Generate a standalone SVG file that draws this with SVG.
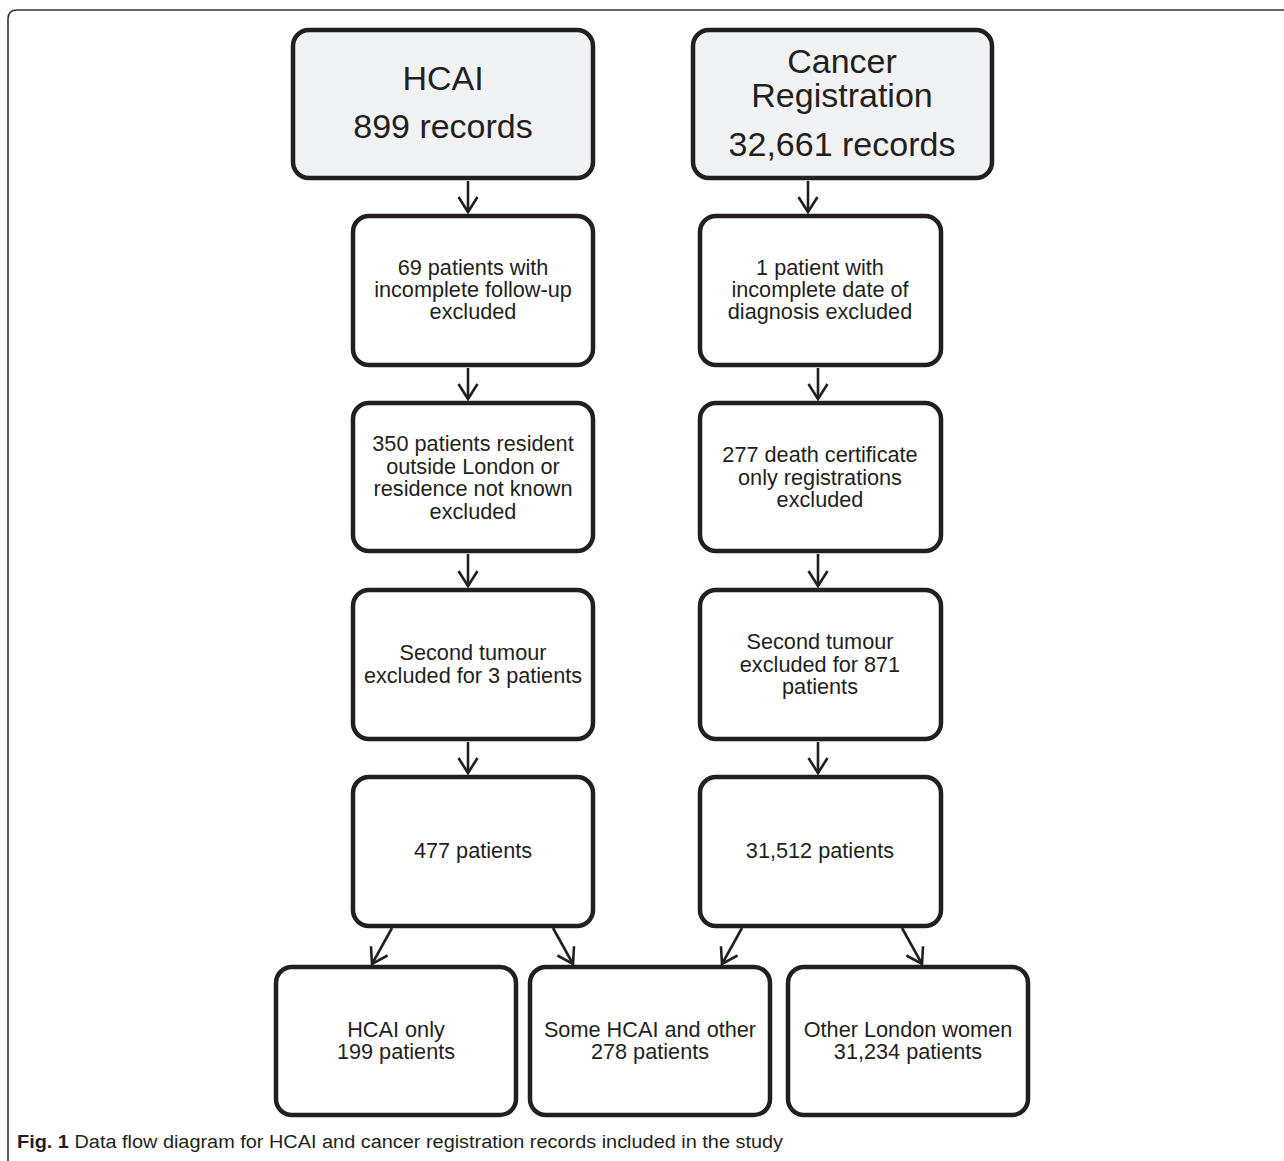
<svg xmlns="http://www.w3.org/2000/svg" width="1284" height="1161" viewBox="0 0 1284 1161">
<defs>
<style>
.box{fill:#ffffff;stroke:#231f20;stroke-width:4.5}
.head{fill:#f1f2f3;stroke:#231f20;stroke-width:4.5}
.t{font-family:"Liberation Sans",Arial,sans-serif;font-size:21.7px;fill:#231f20;text-anchor:middle}
.big{font-family:"Liberation Sans",Arial,sans-serif;font-size:34px;fill:#231f20;text-anchor:middle}
.cap{font-family:"Liberation Sans",Arial,sans-serif;font-size:18px;fill:#231f20}
.conn line{stroke:#231f20;stroke-width:2.6;marker-end:url(#arr)}
</style>
<marker id="arr" markerUnits="userSpaceOnUse" markerWidth="24" markerHeight="24" viewBox="-18 -12 20 24" refX="0" refY="0" orient="auto">
<path d="M-15,-9.5 L0,0 L-15,9.5" fill="none" stroke="#231f20" stroke-width="2.6" stroke-linejoin="miter"/>
</marker>
</defs>
<rect width="1284" height="1161" fill="#ffffff"/>
<path d="M8,1161 L8,19 Q8,10 17,10 L1284,10" fill="none" stroke="#333333" stroke-width="1.6"/>

<g id="hcai">
<rect class="head" x="293" y="30" width="300" height="148" rx="16"/>
<text class="big" x="443" y="90">HCAI</text>
<text class="big" x="443" y="138">899 records</text>
</g>
<g id="cancer">
<rect class="head" x="693" y="30" width="299" height="148" rx="16"/>
<text class="big" x="842" y="73">Cancer</text>
<text class="big" x="842" y="107">Registration</text>
<text class="big" x="842" y="156">32,661 records</text>
</g>

<g id="h1">
<rect class="box" x="353" y="216" width="240" height="149" rx="16"/>
<text class="t" x="473" y="275">69 patients with</text>
<text class="t" x="473" y="297">incomplete follow-up</text>
<text class="t" x="473" y="319">excluded</text>
</g>
<g id="h2">
<rect class="box" x="353" y="403" width="240" height="148" rx="16"/>
<text class="t" x="473" y="451">350 patients resident</text>
<text class="t" x="473" y="473.5">outside London or</text>
<text class="t" x="473" y="496">residence not known</text>
<text class="t" x="473" y="518.5">excluded</text>
</g>
<g id="h3">
<rect class="box" x="353" y="590" width="240" height="149" rx="16"/>
<text class="t" x="473" y="660">Second tumour</text>
<text class="t" x="473" y="683">excluded for 3 patients</text>
</g>
<g id="h4">
<rect class="box" x="353" y="777" width="240" height="149" rx="16"/>
<text class="t" x="473" y="858">477 patients</text>
</g>

<g id="c1">
<rect class="box" x="700" y="216" width="241" height="149" rx="16"/>
<text class="t" x="820" y="275">1 patient with</text>
<text class="t" x="820" y="297">incomplete date of</text>
<text class="t" x="820" y="319">diagnosis excluded</text>
</g>
<g id="c2">
<rect class="box" x="700" y="403" width="241" height="148" rx="16"/>
<text class="t" x="820" y="462">277 death certificate</text>
<text class="t" x="820" y="484.5">only registrations</text>
<text class="t" x="820" y="507">excluded</text>
</g>
<g id="c3">
<rect class="box" x="700" y="590" width="241" height="149" rx="16"/>
<text class="t" x="820" y="649">Second tumour</text>
<text class="t" x="820" y="671.5">excluded for 871</text>
<text class="t" x="820" y="694">patients</text>
</g>
<g id="c4">
<rect class="box" x="700" y="777" width="241" height="149" rx="16"/>
<text class="t" x="820" y="858">31,512 patients</text>
</g>

<g id="b1">
<rect class="box" x="276" y="967" width="240" height="148" rx="16"/>
<text class="t" x="396" y="1037">HCAI only</text>
<text class="t" x="396" y="1059">199 patients</text>
</g>
<g id="b2">
<rect class="box" x="530" y="967" width="240" height="148" rx="16"/>
<text class="t" x="650" y="1037">Some HCAI and other</text>
<text class="t" x="650" y="1059">278 patients</text>
</g>
<g id="b3">
<rect class="box" x="788" y="967" width="240" height="148" rx="16"/>
<text class="t" x="908" y="1037">Other London women</text>
<text class="t" x="908" y="1059">31,234 patients</text>
</g>

<g id="connectors" class="conn">
<line x1="468" y1="181" x2="468" y2="212"/>
<line x1="808" y1="181" x2="808" y2="212"/>
<line x1="468" y1="368" x2="468" y2="399"/>
<line x1="468" y1="554" x2="468" y2="586"/>
<line x1="468" y1="742" x2="468" y2="773"/>
<line x1="818" y1="368" x2="818" y2="399"/>
<line x1="818" y1="554" x2="818" y2="586"/>
<line x1="818" y1="742" x2="818" y2="773"/>
<line x1="392" y1="928" x2="372" y2="964"/>
<line x1="553" y1="928" x2="573" y2="964"/>
<line x1="742" y1="928" x2="722" y2="964"/>
<line x1="902" y1="928" x2="922" y2="964"/>
</g>

<text class="cap" x="17" y="1148" textLength="766" lengthAdjust="spacingAndGlyphs"><tspan font-weight="bold">Fig. 1</tspan> Data flow diagram for HCAI and cancer registration records included in the study</text>
</svg>
